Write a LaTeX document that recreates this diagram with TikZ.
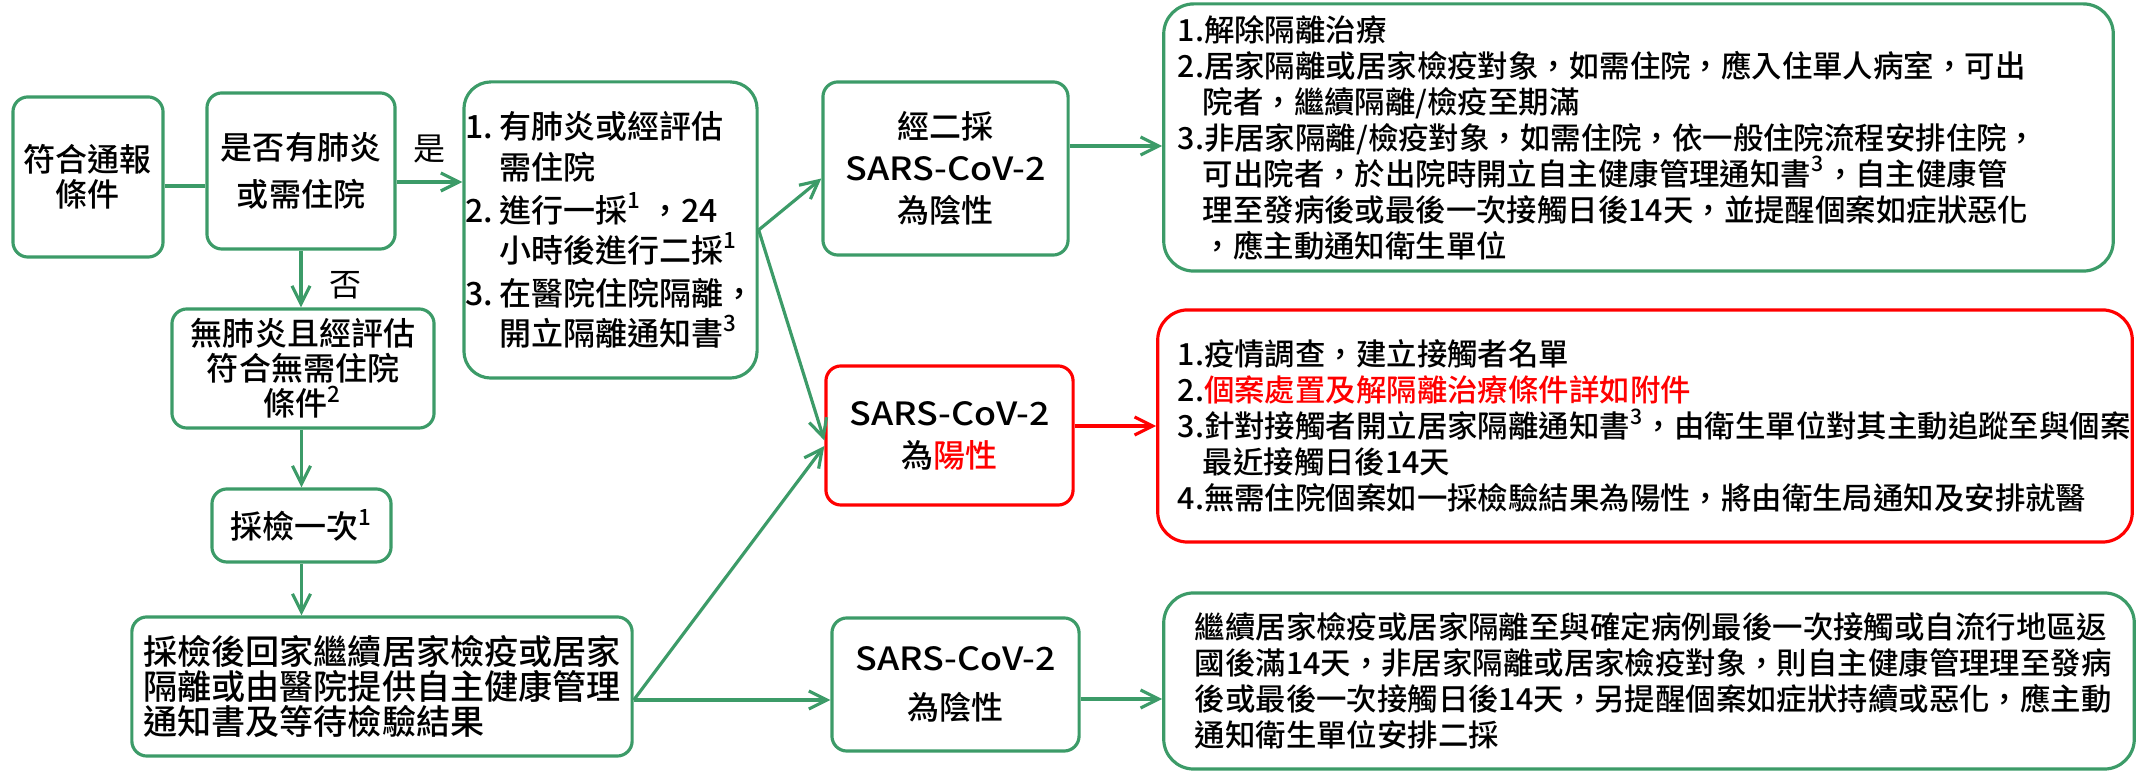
\documentclass[tikz,border=0pt]{standalone}
\usepackage{fontspec}
\setmainfont{Noto Sans CJK TC}[UprightFont=* Medium]
\newfontfamily\lblfont{Noto Sans CJK TC}
\usetikzlibrary{arrows.meta}

\definecolor{pgreen}{RGB}{60,155,104}
\definecolor{pred}{RGB}{255,0,0}

\newcommand{\sars}{\scalebox{1.12}[1]{SARS-CoV-2}}

\tikzset{
  box/.style={draw=pgreen, line width=0.9pt, rounded corners=0.15cm, inner sep=0pt,
    align=center, font=\fontsize{9.1}{10}\selectfont},
  redbox/.style={box, draw=pred},
  link/.style={draw=pgreen, line width=0.9pt},
  flow/.style={link, -{Straight Barb[length=1.8mm,width=1.8mm]}},
  lbl/.style={inner sep=0pt, font=\lblfont\fontsize{9.1}{10}\selectfont},
}

\begin{document}
\begin{tikzpicture}[x=0.01cm, y=-0.01cm]
    \useasboundingbox (0,0) rectangle (2136,771);

    % Left column
    \node[box, minimum width=1.50cm, minimum height=1.60cm] (report) at (88,177) {符合通報\\條件};
    \node[box, minimum width=1.88cm, minimum height=1.56cm, font=\fontsize{9.1}{13.4}\selectfont]
        (ask) at (301,171) {是否有肺炎\\或需住院};
    \node[box, minimum width=2.62cm, minimum height=1.19cm] (noPneu) at (303,368.5)
        {無肺炎且經評估\\符合無需住院\\條件\textsuperscript{2}};
    \node[box, minimum width=1.79cm, minimum height=0.73cm] (once) at (301.5,525.5)
        {採檢一次\textsuperscript{1}};
    \node[box, minimum width=5.00cm, minimum height=1.39cm, align=left,
        font=\fontsize{9.7}{10}\selectfont] (home) at (382,686.5)
        {採檢後回家繼續居家檢疫或居家\\隔離或由醫院提供自主健康管理\\通知書及等待檢驗結果};

    % Hospital branch
    \node[box, minimum width=2.93cm, minimum height=2.96cm, rounded corners=0.27cm, align=left,
        font=\fontsize{9.1}{11.4}\selectfont] (hosp) at (610.5,230)
        {\makebox[0.34cm][l]{1.}有肺炎或經評估\\
         \hspace*{0.34cm}需住院\\[0.03cm]
         \makebox[0.34cm][l]{2.}進行一採\textsuperscript{1} ，24\\
         \hspace*{0.34cm}小時後進行二採\textsuperscript{1}\\[0.03cm]
         \makebox[0.34cm][l]{3.}在醫院住院隔離，\\
         \hspace*{0.34cm}開立隔離通知書\textsuperscript{3}};

    % Results
    \node[box, minimum width=2.45cm, minimum height=1.73cm, font=\fontsize{9.1}{11.95}\selectfont]
        (neg2) at (945.5,168.5) {經二採\\\sars\\為陰性};
    \node[redbox, minimum width=2.47cm, minimum height=1.39cm, font=\fontsize{9.1}{11.95}\selectfont]
        (pos) at (949.5,435.5) {\sars\\為\textcolor{pred}{陽性}};
    \node[box, minimum width=2.47cm, minimum height=1.33cm, font=\fontsize{9.1}{13.9}\selectfont]
        (neg1) at (955.5,684.5) {\sars\\為陰性};

    % Actions
    \node[box, minimum width=9.49cm, minimum height=2.67cm, rounded corners=0.3cm, align=left,
        inner xsep=0.14cm, text width=9.21cm, font=\fontsize{8.65}{10.24}\selectfont]
        (release) at (1638.5,137.5)
        {1.解除隔離治療\\
         2.居家隔離或居家檢疫對象，如需住院，應入住單人病室，可出\\
         \hspace*{0.25cm}院者，繼續隔離/檢疫至期滿\\
         3.非居家隔離/檢疫對象，如需住院，依一般住院流程安排住院，\\
         \hspace*{0.25cm}可出院者，於出院時開立自主健康管理通知書\textsuperscript{3}，自主健康管\\
         \hspace*{0.25cm}理至發病後或最後一次接觸日後14天，並提醒個案如症狀惡化\\
         \hspace*{0.25cm}，應主動通知衛生單位};
    \node[redbox, minimum width=9.74cm, minimum height=2.32cm, rounded corners=0.3cm, align=left,
        inner xsep=0.2cm, text width=9.34cm, font=\fontsize{8.65}{10.24}\selectfont]
        (posInfo) at (1645,426)
        {1.疫情調查，建立接觸者名單\\
         2.\textcolor{pred}{個案處置及解隔離治療條件詳如附件}\\
         3.針對接觸者開立居家隔離通知書\textsuperscript{3}，由衛生單位對其主動追蹤至與個案\\
         \hspace*{0.25cm}最近接觸日後14天\\
         4.無需住院個案如一採檢驗結果為陽性，將由衛生局通知及安排就醫};
    \node[box, minimum width=9.70cm, minimum height=1.76cm, rounded corners=0.3cm, align=left,
        inner xsep=0.31cm, text width=9.08cm, font=\fontsize{8.65}{10.24}\selectfont]
        (negInfo) at (1649,681)
        {繼續居家檢疫或居家隔離至與確定病例最後一次接觸或自流行地區返\\
         國後滿14天，非居家隔離或居家檢疫對象，則自主健康管理理至發病\\
         後或最後一次接觸日後14天，另提醒個案如症狀持續或惡化，應主動\\
         通知衛生單位安排二採};

    % Connectors
    \coordinate (repOut) at ([yshift=-0.09cm]report.east);
    \draw[link] (repOut) -- (repOut -| ask.west);
    \coordinate (askOut) at ([yshift=-0.11cm]ask.east);
    \draw[flow] (askOut) -- (askOut -| hosp.west) node[lbl, midway, yshift=0.33cm] (yesLbl) {是};
    \draw[flow] (ask.south) -- (ask.south |- noPneu.north)
        node[lbl, midway, xshift=0.44cm, yshift=-0.06cm] (noLbl) {否};
    \draw[flow] (once.north |- noPneu.south) -- (once.north);
    \draw[flow] (once.south) -- (once.south |- home.north);

    \draw[flow] (hosp.east) -- ([yshift=-0.1cm]neg2.west);
    \draw[flow] (hosp.east) -- ([yshift=-0.05cm]pos.west);
    \coordinate (homeOut) at ([yshift=-0.135cm]home.east);
    \draw[flow] (homeOut) -- ([yshift=-0.105cm]pos.west);
    \draw[flow] (homeOut) -- (homeOut -| neg1.west);

    \coordinate (neg2Out) at ([yshift=0.225cm]neg2.east);
    \draw[flow] (neg2Out) -- (neg2Out -| release.west);
    \coordinate (posOut) at ([yshift=0.095cm]pos.east);
    \draw[flow, draw=pred] (posOut) -- (posOut -| posInfo.west);
    \coordinate (neg1Out) at ([yshift=-0.145cm]neg1.east);
    \draw[flow] (neg1Out) -- (neg1Out -| negInfo.west);
\end{tikzpicture}
\end{document}
